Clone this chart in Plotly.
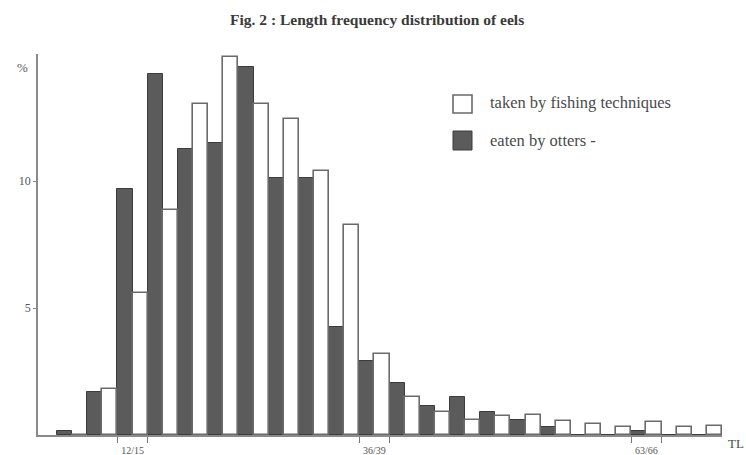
import plotly.graph_objects as go

# ---- data ----
class_start = [6, 9, 12, 15, 18, 21, 24, 27, 30, 33, 36, 39, 42, 45, 48, 51, 54, 57, 60, 63, 66, 69]
otters = [0.15, 1.7, 9.7, 14.2, 11.25, 11.5, 14.5, 10.1, 10.1, 4.25, 2.9, 2.05, 1.15, 1.5,
          0.9, 0.6, 0.3, 0, 0, 0.15, 0, 0]
fishing = [0, 1.8, 5.6, 8.85, 13.05, 14.9, 13.05, 12.45, 10.4, 8.25, 3.2, 1.5, 0.9, 0.6,
           0.75, 0.8, 0.55, 0.45, 0.3, 0.5, 0.33, 0.37]
class_width = 3
labelled_classes = [12, 36, 63]
class_labels = ["12/15", "36/39", "63/66"]
y_tickvals = [5, 10]
y_ticktext = ["5", "10"]
series_names = ["taken by fishing techniques", "eaten by otters -"]
title_text = "Fig. 2 : Length frequency distribution of eels"

# ---- geometry ----
W, H = 746, 455
L, R, T, B = 38, 24, 54, 20
PW, PH = W - L - R, H - T - B


def px(x):
    return (x - L) / PW


def py(y):
    return (H - B - y) / PH


SERIF = "Liberation Serif, Times New Roman, serif"
TXT = "#4a4a4a"
DARK = "#5b5b5b"

half = class_width / 2
x_otters = [s + half / 2 for s in class_start]
x_fishing = [s + half + half / 2 for s in class_start]

fig = go.Figure()
fig.add_trace(go.Bar(x=x_otters, y=otters, width=half, name=series_names[1],
                     marker=dict(color=DARK, line=dict(color="#3c3c3c", width=1)),
                     showlegend=False))
fig.add_trace(go.Bar(x=x_fishing, y=fishing, width=half, name=series_names[0],
                     marker=dict(color="white", line=dict(color="#6a6a6a", width=1.6)),
                     showlegend=False))

label_pos = [c + half for c in labelled_classes]
bounds = []
for c in labelled_classes:
    bounds += [c, c + class_width]

fig.update_layout(
    width=W, height=H,
    margin=dict(l=L, r=R, t=T, b=B),
    paper_bgcolor="white", plot_bgcolor="white",
    barmode="overlay", bargap=0,
    font=dict(family=SERIF, color=TXT),
    xaxis=dict(range=[4.11, 72], showgrid=False, zeroline=False, automargin=False,
               showline=True, linecolor="#8a8a8a", linewidth=1.5,
               tickmode="array", tickvals=label_pos, ticktext=class_labels,
               ticks="", ticklabelstandoff=5,
               tickfont=dict(family=SERIF, size=10, color="#555555"),
               minor=dict(tickmode="array", tickvals=bounds, ticks="outside",
                          ticklen=6, tickcolor="#777", tickwidth=1.2)),
    yaxis=dict(range=[0, 15], showgrid=False, zeroline=False, automargin=False,
               showline=True, linecolor="#8a8a8a", linewidth=1.5,
               tickmode="array", tickvals=y_tickvals, ticktext=y_ticktext,
               ticks="outside", ticklen=3, tickcolor="#888",
               tickfont=dict(family=SERIF, size=12, color="#555555")),
)

ann = [
    dict(text="<b>" + title_text + "</b>", x=px(377), y=py(19), xref="paper", yref="paper",
         xanchor="center", yanchor="middle", showarrow=False,
         font=dict(family=SERIF, size=15.5, color="#3a3a3a")),
    dict(text="%", x=px(22), y=py(67), xref="paper", yref="paper",
         xanchor="center", yanchor="middle", showarrow=False,
         font=dict(family=SERIF, size=13, color="#5a5a5a")),
    dict(text="TL", x=px(736), y=py(443), xref="paper", yref="paper",
         xanchor="center", yanchor="middle", showarrow=False,
         font=dict(family=SERIF, size=13, color="#4a4a4a")),
    dict(text=series_names[0], x=px(488), y=py(103), xref="paper", yref="paper",
         xanchor="left", yanchor="middle", showarrow=False,
         font=dict(family=SERIF, size=16.5, color=TXT)),
    dict(text=series_names[1], x=px(488), y=py(140), xref="paper", yref="paper",
         xanchor="left", yanchor="middle", showarrow=False,
         font=dict(family=SERIF, size=16.5, color=TXT)),
]
fig.update_layout(annotations=ann)

fig.add_shape(type="rect", xref="paper", yref="paper",
              x0=px(453), x1=px(472), y0=py(113), y1=py(95),
              fillcolor="white", line=dict(color="#6a6a6a", width=1.6))
fig.add_shape(type="rect", xref="paper", yref="paper",
              x0=px(453), x1=px(472), y0=py(150), y1=py(131),
              fillcolor=DARK, line=dict(color="#3c3c3c", width=1))

fig.write_html("out.html")
